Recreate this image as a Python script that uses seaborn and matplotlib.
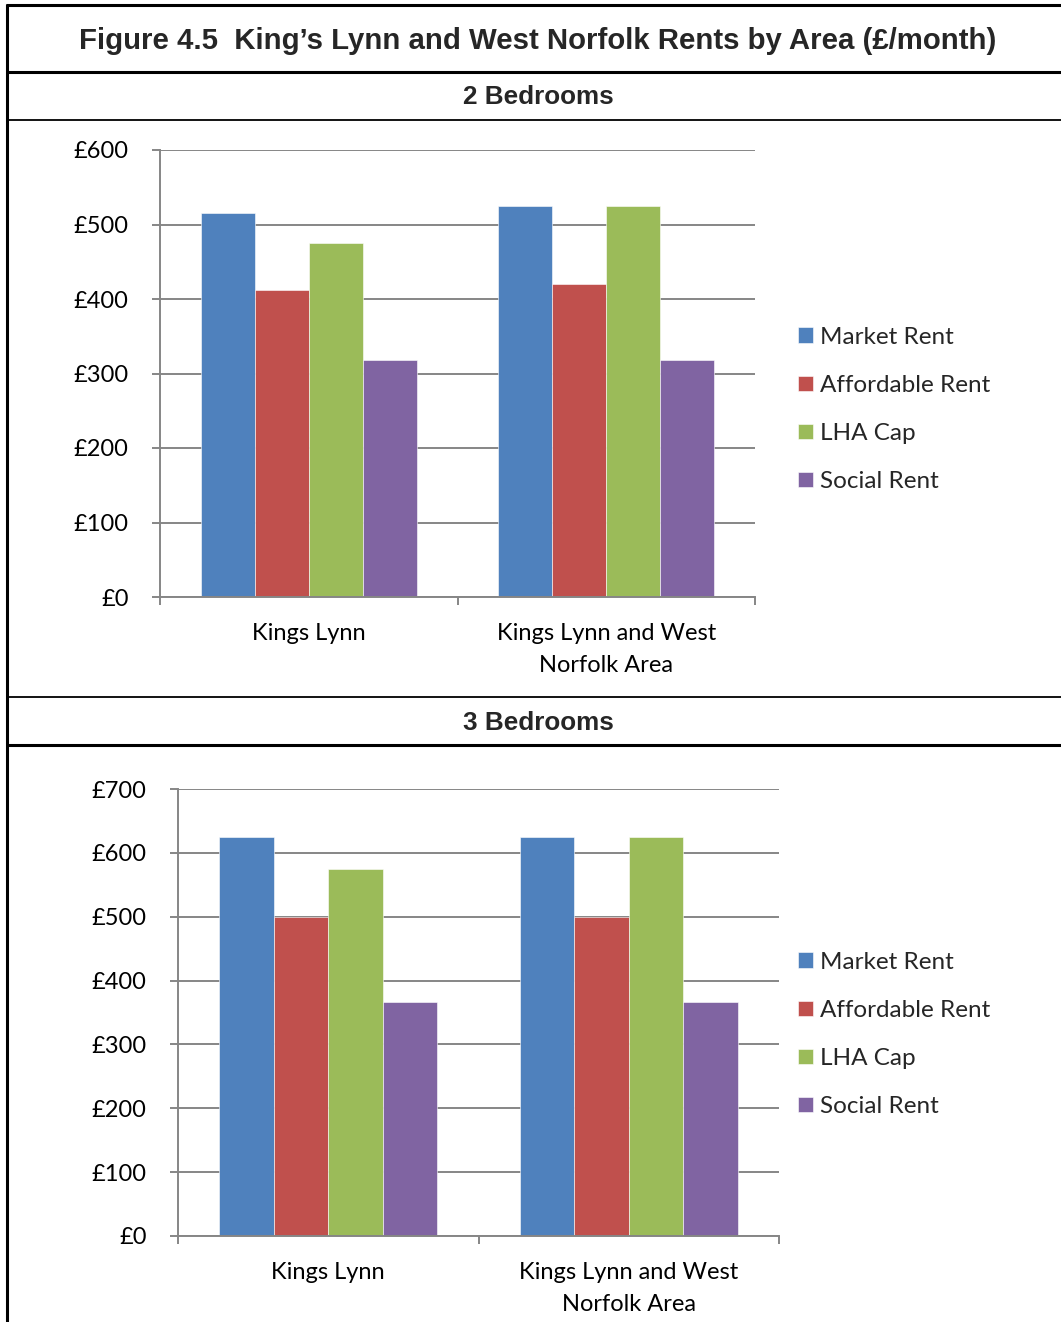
import matplotlib
matplotlib.use("Agg")
import matplotlib.pyplot as plt
import seaborn as sns
import pandas as pd
from matplotlib.lines import Line2D
from matplotlib.ticker import FuncFormatter, FixedLocator

# ---- data ----
areas = ["Kings Lynn", "Kings Lynn and West\nNorfolk Area"]
rent_types = ["Market Rent", "Affordable Rent", "LHA Cap", "Social Rent"]
bed2_kings_lynn = [515, 412, 475, 318]
bed2_klwn = [525, 420, 525, 318]
bed3_kings_lynn = [625, 500, 575, 366]
bed3_klwn = [625, 500, 625, 366]
colors = ["#4F81BD", "#C0504D", "#9BBB59", "#8064A2"]

title = "Figure 4.5  King\u2019s Lynn and West Norfolk Rents by Area (\u00a3/month)"
panel_titles = ["2 Bedrooms", "3 Bedrooms"]

def make_df(v1, v2):
    rows = []
    for area, vals in zip(areas, [v1, v2]):
        for t, v in zip(rent_types, vals):
            rows.append({"Area": area, "Type": t, "Rent": v})
    return pd.DataFrame(rows)

df2 = make_df(bed2_kings_lynn, bed2_klwn)
df3 = make_df(bed3_kings_lynn, bed3_klwn)

sns.set_theme(style="white")
plt.rcParams["font.family"] = ["Lato", "DejaVu Sans"]

W, H = 1061, 1322
fig = plt.figure(figsize=(W / 100, H / 100), dpi=100)

def fx(x):
    return x / W

def fy(y):
    return 1 - y / H

def hline(y, x0, x1, lw):
    fig.add_artist(Line2D([fx(x0), fx(x1)], [fy(y), fy(y)], transform=fig.transFigure,
                          color="black", lw=lw, solid_capstyle="butt"))

def vline(x, y0, y1, lw):
    fig.add_artist(Line2D([fx(x), fx(x)], [fy(y0), fy(y1)], transform=fig.transFigure,
                          color="black", lw=lw, solid_capstyle="butt"))

# frame
hline(5, 6, W, 2.2)
vline(7, 4, H, 2.2)
hline(72, 6, W, 2.2)
hline(120, 6, W, 1.3)
hline(697, 6, W, 1.3)
hline(745, 6, W, 2.2)

bold_family = ["Liberation Sans", "DejaVu Sans"]
fig.text(fx(538), fy(41), title, ha="center", va="center", fontsize=21.2,
         fontweight="bold", family=bold_family)
fig.text(fx(538), fy(97.5), panel_titles[0], ha="center", va="center", fontsize=18.8,
         fontweight="bold", family=bold_family)
fig.text(fx(538), fy(723.5), panel_titles[1], ha="center", va="center", fontsize=18.8,
         fontweight="bold", family=bold_family)

grid_c = "#868686"
fs = 17
legend_fs = 17.5

def draw(df, rect, ymax, legend_y):
    l, t, r, b = rect
    ax = fig.add_axes([fx(l), fy(b), fx(r - l), (b - t) / H])
    sns.barplot(data=df, x="Area", y="Rent", hue="Type", hue_order=rent_types,
                order=areas, palette=colors, saturation=1, width=0.727,
                edgecolor="white", linewidth=0.4, ax=ax)
    ax.set_ylim(0, ymax)
    ax.set_xlim(-0.5, 1.5)
    ax.yaxis.set_major_locator(FixedLocator(list(range(0, ymax + 1, 100))))
    ax.yaxis.set_major_formatter(FuncFormatter(lambda v, p: f"\u00a3{v:,.0f}"))
    ax.set_axisbelow(True)
    ax.yaxis.grid(True, color=grid_c, lw=1.4)
    ax.xaxis.grid(False)
    for s in ["top", "right"]:
        ax.spines[s].set_visible(False)
    for s in ["left", "bottom"]:
        ax.spines[s].set_color(grid_c)
        ax.spines[s].set_linewidth(1.4)
    ax.set_xlabel("")
    ax.set_ylabel("")
    ax.tick_params(axis="y", which="major", length=5.5, width=1.4, color=grid_c,
                   pad=17, labelsize=fs, labelcolor="black", left=True, direction="out")
    ax.tick_params(axis="x", which="major", length=0, pad=18.5, labelsize=fs,
                   labelcolor="black")
    ax.xaxis.set_minor_locator(FixedLocator([-0.5, 0.5, 1.5]))
    ax.tick_params(axis="x", which="minor", length=5.5, width=1.4, color=grid_c,
                   bottom=True, direction="out")
    for lab in ax.get_xticklabels():
        lab.set_linespacing(1.65)
    handles, labels = ax.get_legend_handles_labels()
    if ax.get_legend() is not None:
        ax.get_legend().remove()
    fig.legend(handles, labels, loc="center left",
               bbox_to_anchor=(fx(798), fy(legend_y)), bbox_transform=fig.transFigure,
               frameon=False, fontsize=legend_fs, handlelength=0.6, handleheight=0.6,
               handletextpad=0.3, labelspacing=1.12, borderpad=0, borderaxespad=0)
    return ax

draw(df2, (160, 150, 755, 597), 600, 409.5)
draw(df3, (178, 789, 779, 1236), 700, 1034.5)

fig.savefig("out.png", dpi=100)
